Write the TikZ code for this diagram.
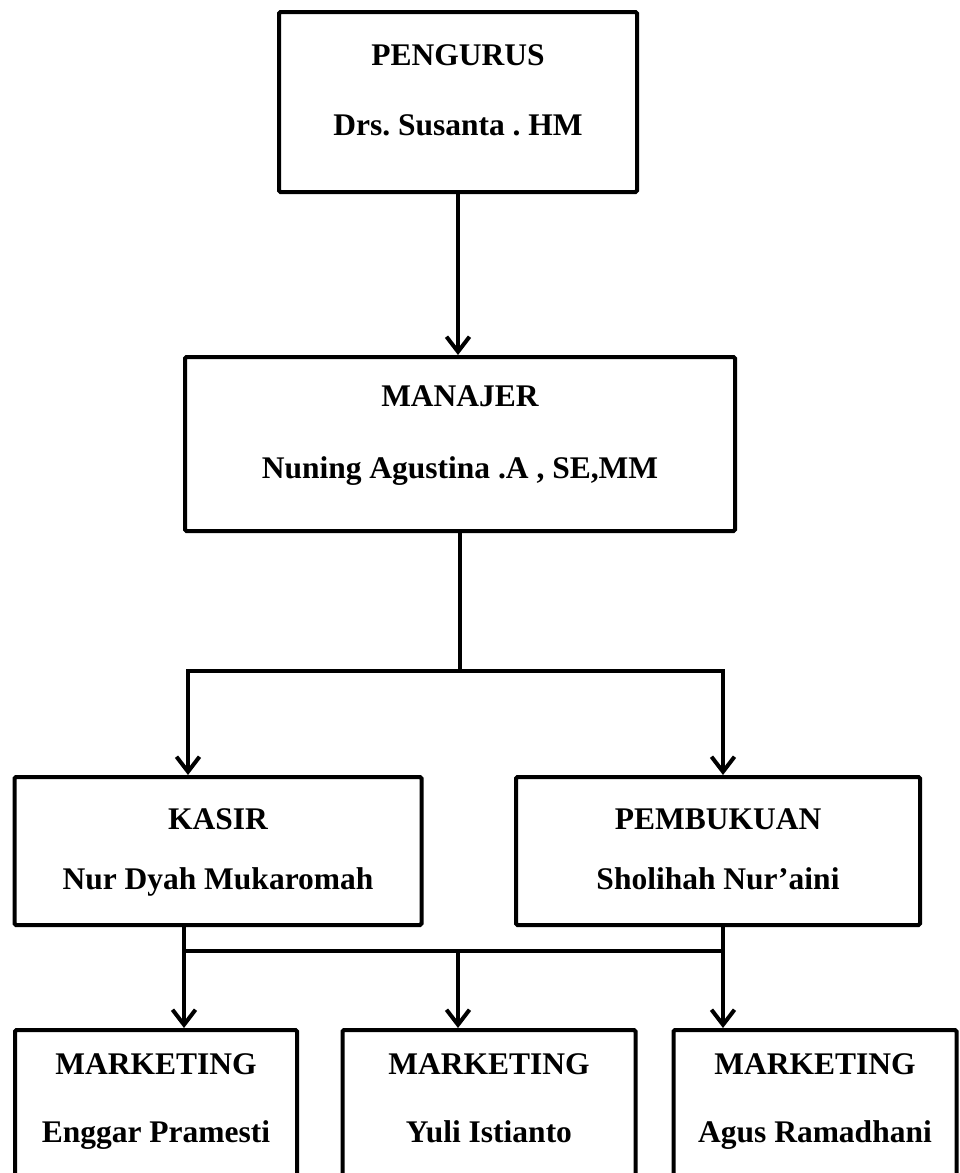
\documentclass[tikz,border=0pt]{standalone}
\usepackage{fontspec}
\setmainfont{Liberation Serif}
\usetikzlibrary{arrows.meta, positioning, calc}
\frenchspacing

% top strut, extra gap, first line, second line, bottom strut
\newcommand{\orgtext}[5]{\rule{0pt}{#1}#3\\[#2]#4\rule[-#5]{0pt}{#5}}

\begin{document}
\begin{tikzpicture}[
        x=1pt, y=-1pt,
        box/.style={rectangle, draw, line width=4pt, rounded corners=1.5pt, inner sep=0pt, anchor=north, align=center, font=\fontsize{31.5}{60}\selectfont\bfseries},
        line/.style={line width=4pt, line cap=rect},
        arrow/.style={line width=4pt, -{Straight Barb[length=15pt, width=23pt]}}
    ]
        \useasboundingbox (0,0) rectangle (960,1173);

        \node (pengurus) [box, minimum width=358pt] at (458,10) {\orgtext{53pt}{10pt}{PENGURUS}{Drs. Susanta . HM}{57pt}};
        \node (manajer) [box, minimum width=550pt] at (460,355) {\orgtext{49pt}{12pt}{MANAJER}{Nuning Agustina .A , SE,MM}{53pt}};
        \node (kasir) [box, minimum width=407pt] at (218,775) {\orgtext{52pt}{0pt}{KASIR}{Nur Dyah Mukaromah}{36pt}};
        \node (pembukuan) [box, minimum width=404pt] at (718,775) {\orgtext{52pt}{0pt}{PEMBUKUAN}{Sholihah Nur'aini}{36pt}};
        \node (mkt1) [box, minimum width=282pt] at (156,1028) {\orgtext{44pt}{8pt}{MARKETING}{Enggar Pramesti}{70pt}};
        \node (mkt2) [box, minimum width=293pt] at (489,1028) {\orgtext{44pt}{8pt}{MARKETING}{Yuli Istianto}{70pt}};
        \node (mkt3) [box, minimum width=283pt] at (815,1028) {\orgtext{44pt}{8pt}{MARKETING}{Agus Ramadhani}{70pt}};

        \coordinate (kasirIn) at (188,671);
        \coordinate (bukuIn) at (723,671);
        \coordinate (kasirOut) at (184,951);
        \coordinate (bukuOut) at (723,951);
        \coordinate (midOut) at (458,951);

        \draw [arrow] (pengurus.south) -- (pengurus.south |- manajer.north);
        \draw [line] (manajer.south) -- (manajer.south |- kasirIn);
        \draw [line] (kasirIn) -- (bukuIn);
        \draw [arrow] (kasirIn) -- (kasirIn |- kasir.north);
        \draw [arrow] (bukuIn) -- (bukuIn |- pembukuan.north);

        \draw [line] (kasirOut |- kasir.south) -- (kasirOut);
        \draw [line] (bukuOut |- pembukuan.south) -- (bukuOut);
        \draw [line] (kasirOut) -- (bukuOut);
        \draw [arrow] (kasirOut) -- (kasirOut |- mkt1.north);
        \draw [arrow] (midOut) -- (midOut |- mkt2.north);
        \draw [arrow] (bukuOut) -- (bukuOut |- mkt3.north);
    \end{tikzpicture}
\end{document}
